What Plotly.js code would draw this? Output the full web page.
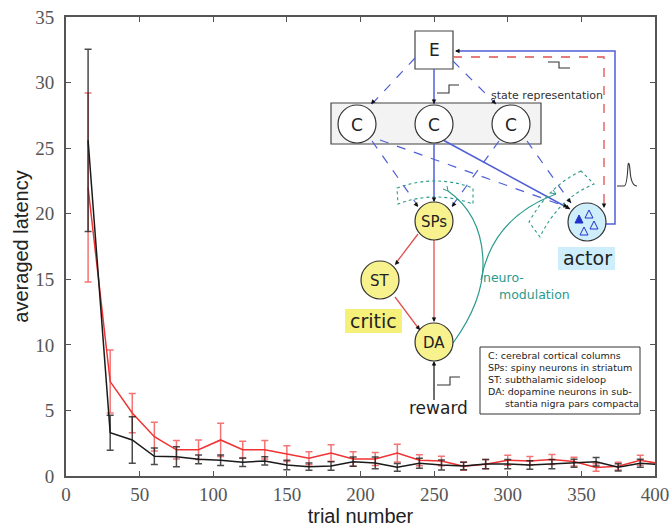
<!DOCTYPE html>
<html>
<head>
<meta charset="utf-8">
<script src="https://cdn.plot.ly/plotly-3.0.1.min.js"></script>
<style>html,body{margin:0;padding:0;background:#fff;}#plot{width:669px;height:527px;}</style>
</head>
<body>
<div id="plot"></div>
<script>
// ---- data ----
const trials = [15,30,45,60,75,90,105,120,135,150,165,180,195,210,225,240,255,270,285,300,315,330,345,360,375,390,405];
const redLatency = [22.0,7.2,4.8,3.0,2.0,2.0,2.75,2.0,2.0,1.7,1.35,1.75,1.3,1.3,1.75,1.2,1.15,0.75,0.9,1.2,1.15,1.25,1.1,0.65,0.75,1.2,0.9];
const redError   = [7.2,2.4,1.5,1.1,0.7,0.75,1.27,0.65,0.7,0.6,0.5,0.63,0.55,0.5,0.68,0.42,0.36,0.32,0.35,0.38,0.33,0.38,0.33,0.28,0.3,0.38,0.3];
const blackLatency = [25.6,3.3,2.75,1.5,1.47,1.27,1.2,1.05,1.15,0.84,0.71,0.76,1.09,1.0,0.66,0.97,0.84,0.76,0.91,0.91,0.84,0.91,0.97,1.09,0.66,0.97,0.85];
const blackError   = [6.95,1.33,1.77,0.63,0.76,0.33,0.4,0.33,0.32,0.36,0.28,0.32,0.35,0.45,0.3,0.38,0.38,0.28,0.35,0.35,0.33,0.35,0.3,0.33,0.28,0.3,0.3];
const xTicks = [0,50,100,150,200,250,300,350,400];
const yTicks = [0,5,10,15,20,25,30,35];
const legendLines = ["C: cerebral cortical columns","SPs: spiny neurons in striatum","ST: subthalamic sideloop","DA: dopamine neurons in sub-","      stantia nigra pars compacta"];

// ---- helpers: pixel position on the figure -> axis units (for the diagram decoration) ----
const L=66, R=655, T=17, B=476;
const X = px => (px-L)/(R-L)*400;
const Y = py => (B-py)/(B-T)*35;
const pth = s => s.replace(/(-?\d+(\.\d+)?),(-?\d+(\.\d+)?)/g,(m,a,_,b)=>X(+a).toFixed(3)+','+Y(+b).toFixed(3));

const shapes = [];
const annotations = [];
const BLUE='#4f5fd6', RED='#e05050', TEAL='#2a9a8c', DARK='#333';
function line(x0,y0,x1,y1,color,width,dash){
  shapes.push({type:'line',xref:'x',yref:'y',x0:X(x0),y0:Y(y0),x1:X(x1),y1:Y(y1),line:{color:color,width:width||1.3,dash:dash||'solid'}});
}
function path(d,color,width,dash,fill){
  shapes.push({type:'path',xref:'x',yref:'y',path:pth(d),line:{color:color,width:width||1.2,dash:dash||'solid'},fillcolor:fill||'rgba(0,0,0,0)'});
}
function circle(cx,cy,r,fill,lw){
  shapes.push({type:'circle',xref:'x',yref:'y',x0:X(cx-r),x1:X(cx+r),y0:Y(cy+r),y1:Y(cy-r),fillcolor:fill,line:{color:DARK,width:lw||1.2}});
}
function rect(x0,y0,x1,y1,fill,color,lw){
  shapes.push({type:'rect',xref:'x',yref:'y',x0:X(x0),x1:X(x1),y0:Y(y1),y1:Y(y0),fillcolor:fill,line:{color:color||DARK,width:lw||1.2}});
}
function head(px,py,fx,fy){
  const dx=fx-px, dy=fy-py, len=Math.hypot(dx,dy);
  annotations.push({x:X(px),y:Y(py),xref:'x',yref:'y',text:'',showarrow:true,arrowhead:2,arrowsize:0.9,arrowwidth:1,arrowcolor:'#111',ax:dx/len*6,ay:dy/len*6,standoff:0});
}
function text(t,x,y,size,color,opts){
  annotations.push(Object.assign({x:X(x),y:Y(y),xref:'x',yref:'y',text:t,showarrow:false,font:{family:'DejaVu Sans',size:size,color:color||'#222'}},opts||{}));
}

// state representation block
rect(331,103,541,144,'#f3f3f3','#444',1.2);
// E box
rect(415,31,453,69,'#ffffff','#444',1.2);
text('E',434,50,17);
// blue feedback loop actor -> E
path('M 606,224 L 615,224 L 615,51 L 456,51',BLUE,1.5);
head(455,51,470,51);
// red dashed loop E -> actor
path('M 453,57 L 604,57 L 604,207',RED,1.3,'dash');
head(604,208,604,195);
// E -> C
line(434,69,434,104,BLUE,1.5); head(434,104,434,90);
line(415,58,372,104,BLUE,1.2,'dash'); head(371,104,380,94);
line(453,61,496,104,BLUE,1.2,'dash'); head(496,104,488,96);
// C -> SPs and actor
line(434,144,434,201,BLUE,1.5); head(434,202,434,188);
line(372,141,418,206,BLUE,1.2,'dash'); head(418,207,410,196);
line(499,141,452,206,BLUE,1.2,'dash'); head(452,207,459,197);
line(380,140,567,207,BLUE,1.2,'dash'); head(568,207,555,202);
line(527,141,571,203,BLUE,1.2,'dash'); head(571,203,564,194);
line(443,140,570,209,BLUE,1.5); head(570,209,558,202);
// C circles
circle(357,124,19,'#ffffff'); circle(434,124,19,'#ffffff'); circle(511,124,19,'#ffffff');
text('C',357,125,17); text('C',434,125,17); text('C',511,125,17);
text('state representation',547,95,11,'#333');
// step icons
path('M 437,93 L 449,93 L 449,85 L 459,85',DARK,1.1);
path('M 548,62 L 559,62 L 559,68 L 570,68',DARK,1.1);
path('M 437,385 L 450,385 L 450,377 L 460,377',DARK,1.1);
path('M 617,186 L 624,186 Q 627,186 628,165 Q 629,160 630,170 Q 631,186 637,186',DARK,1.1);
// synapse bands
path('M 397,188 Q 435,174 473,188 L 473,204 Q 435,190 398,204 Z',TEAL,1.1,'dot');
path('M 581,171 Q 549,186 529,222 L 540,237 Q 558,199 594,184 Z',TEAL,1.1,'dot');
// neuromodulation curves
path('M 453,343 Q 484,300 483,262 Q 482,215 448,191',TEAL,1.2);
path('M 448,191 L 443,189 M 448,191 L 447,186',TEAL,1);
path('M 481,280 Q 492,218 556,194',TEAL,1.2);
path('M 556,194 L 551,193 M 556,194 L 553,190',TEAL,1);
text('neuro-',503,277,12.5,TEAL);
text('modulation',534,294,12.5,TEAL);
// critic connections
line(418,234,396,263,RED,1.3); head(395,265,404,254);
line(434,240,434,320,RED,1.3); head(434,322,434,310);
line(395,297,419,329,RED,1.3); head(420,330,412,320);
// reward
line(434,400,434,364,'#222',1.3); head(434,361,434,374);
text('reward',438,408,17);
// critic nodes
circle(434,221,19,'#f8f28e'); text('SPs',434,222,15);
circle(380,280,19,'#f8f28e'); text('ST',380,281,15);
circle(434,342,19,'#f8f28e'); text('DA',434,343,15);
rect(345,309,402,333,'#f5f07a','rgba(0,0,0,0)',0);
text('critic',373,321,19);
// actor
circle(587,222,19,'#cdeefa');
path('M 575,223 L 579,215 L 583,223 Z','#2233cc',1,'solid','#2233cc');
path('M 585,218 L 589,210 L 593,218 Z','#2233cc',1);
path('M 590,229 L 594,221 L 598,229 Z','#2233cc',1);
path('M 580,235 L 584,227 L 588,235 Z','#2233cc',1);
rect(558,247,615,270,'#cdeefa','rgba(0,0,0,0)',0);
text('actor',587,258,19);
// glossary box
rect(480,347,640,414,'#ffffff','#333',1);
legendLines.forEach((t,i)=>{
  annotations.push({x:X(486),y:Y(355+i*12),xref:'x',yref:'y',xanchor:'left',text:t.replace(/^ +/,''),showarrow:false,
    xshift:(t.startsWith(' ')?17:0),font:{family:'DejaVu Sans',size:9.5,color:'#222'}});
});

const traces = [
  {x:trials,y:redLatency,type:'scatter',mode:'lines',line:{color:'rgb(240,50,50)',width:1.5},
   error_y:{type:'data',array:redError,visible:true,color:'rgba(240,70,70,0.75)',thickness:1.5,width:3.5},showlegend:false},
  {x:trials,y:blackLatency,type:'scatter',mode:'lines',line:{color:'#1a1a1a',width:1.5},
   error_y:{type:'data',array:blackError,visible:true,color:'rgba(30,30,30,0.8)',thickness:1.5,width:3.5},showlegend:false}
];

const tickFont = {family:'Liberation Serif',size:19,color:'#555'};
const layout = {
  width:669,height:527,
  margin:{l:66,r:14,t:17,b:51,pad:0},
  paper_bgcolor:'#ffffff',plot_bgcolor:'#ffffff',
  showlegend:false,
  xaxis:{range:[0,400],tickvals:xTicks,ticks:'inside',ticklen:5,tickcolor:'#555',tickwidth:1,
    showline:true,linecolor:'#555',linewidth:2,mirror:'ticks',showgrid:false,zeroline:false,
    tickfont:tickFont,ticklabelstandoff:0,ticklabeloverflow:'allow',
    title:{text:'trial number',font:{family:'Liberation Sans',size:20,color:'#222'},standoff:3}},
  yaxis:{range:[0,35],tickvals:yTicks,ticks:'inside',ticklen:5,tickcolor:'#555',tickwidth:1,
    showline:true,linecolor:'#555',linewidth:2,mirror:'ticks',showgrid:false,zeroline:false,
    tickfont:tickFont,ticklabelstandoff:6,ticklabeloverflow:'allow',
    title:{text:'averaged latency',font:{family:'Liberation Sans',size:20,color:'#222'},standoff:1}},
  shapes:shapes,
  annotations:annotations
};
Plotly.newPlot('plot',traces,layout,{displayModeBar:false,staticPlot:true});
</script>
</body>
</html>
